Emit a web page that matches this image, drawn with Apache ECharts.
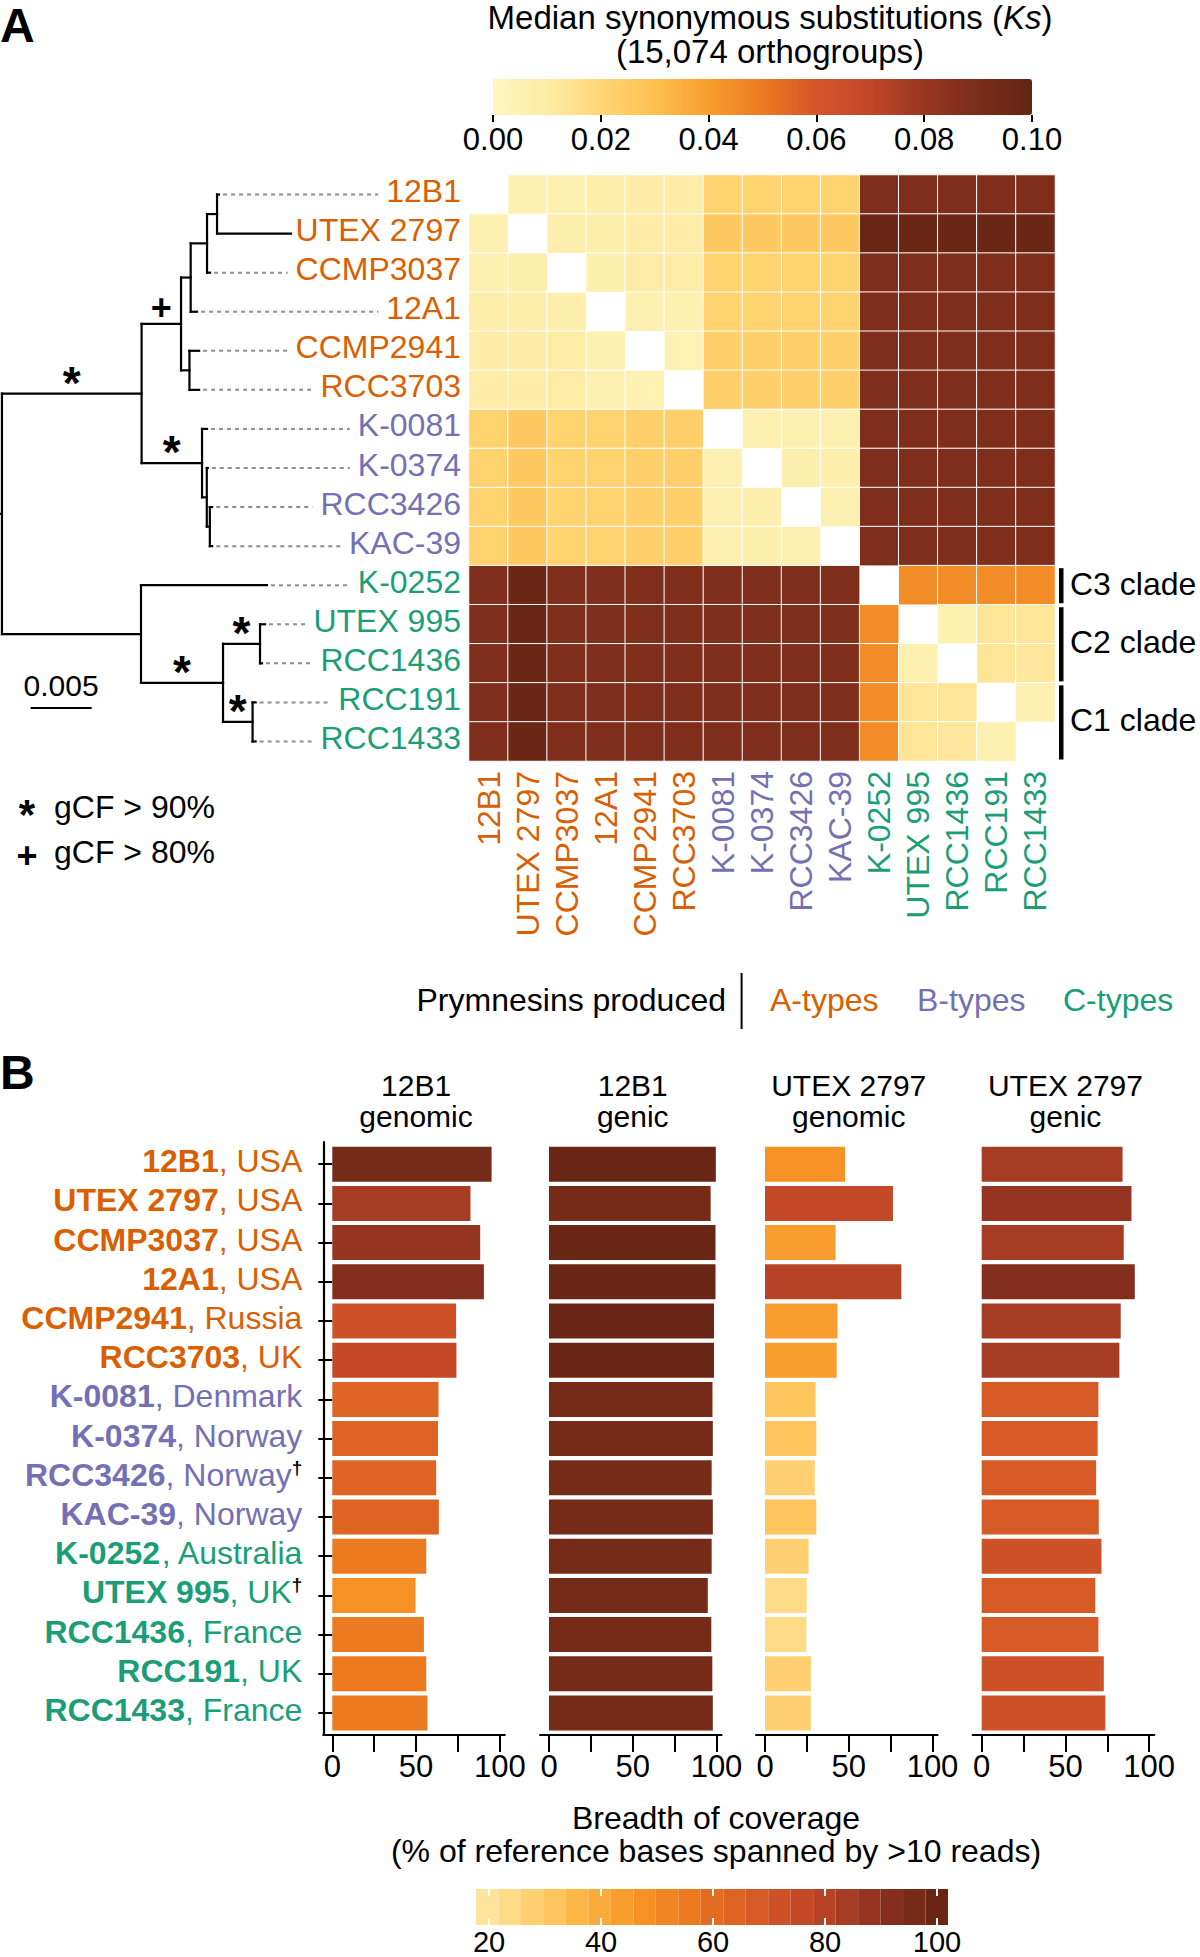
<!DOCTYPE html>
<html>
<head>
<meta charset="utf-8">
<title>Ks heatmap and breadth of coverage</title>
<script src="https://cdn.jsdelivr.net/npm/echarts@6/dist/echarts.min.js"></script>
<style>
html,body{margin:0;padding:0;background:#fff;}
#chart{width:1200px;height:1957px;}
</style>
</head>
<body>
<div id="chart"></div>
<script>
// ================= DATA =================
const strains = ['12B1','UTEX 2797','CCMP3037','12A1','CCMP2941','RCC3703','K-0081','K-0374','RCC3426','KAC-39','K-0252','UTEX 995','RCC1436','RCC191','RCC1433'];
const toxinTypes = ['A','A','A','A','A','A','B','B','B','B','C','C','C','C','C'];
const origins = ['USA','USA','USA','USA','Russia','UK','Denmark','Norway','Norway','Norway','Australia','UK','France','UK','France'];
const originDagger = [0,0,0,0,0,0,0,0,1,0,0,1,0,0,0];
const typeLegend = ['A-types','B-types','C-types'];

// median Ks, rows/cols in strain order, null on the diagonal
const ksMatrix = [
 [null,.006,.006,.008,.009,.009,.022,.022,.022,.022,.088,.088,.088,.088,.088],
 [.006,null,.007,.008,.009,.009,.026,.026,.026,.026,.097,.097,.097,.097,.097],
 [.006,.007,null,.007,.010,.010,.022,.022,.022,.022,.088,.088,.088,.088,.088],
 [.008,.008,.007,null,.006,.006,.022,.022,.022,.022,.088,.088,.088,.088,.088],
 [.009,.009,.010,.006,null,.005,.023,.023,.023,.023,.088,.088,.088,.088,.088],
 [.009,.009,.010,.006,.005,null,.023,.023,.023,.023,.088,.088,.088,.088,.088],
 [.022,.026,.022,.022,.023,.023,null,.006,.006,.006,.088,.088,.088,.088,.088],
 [.022,.026,.022,.022,.023,.023,.006,null,.007,.007,.088,.088,.088,.088,.088],
 [.022,.026,.022,.022,.023,.023,.006,.007,null,.006,.088,.088,.088,.088,.088],
 [.022,.026,.022,.022,.023,.023,.006,.007,.006,null,.088,.088,.088,.088,.088],
 [.088,.097,.088,.088,.088,.088,.088,.088,.088,.088,null,.045,.045,.045,.045],
 [.088,.097,.088,.088,.088,.088,.088,.088,.088,.088,.045,null,.006,.013,.013],
 [.088,.097,.088,.088,.088,.088,.088,.088,.088,.088,.045,.006,null,.013,.012],
 [.088,.097,.088,.088,.088,.088,.088,.088,.088,.088,.045,.013,.013,null,.006],
 [.088,.097,.088,.088,.088,.088,.088,.088,.088,.088,.045,.013,.012,.006,null]
];
const ksMin = 0, ksMax = 0.10, ksStep = 0.02;
const ksColors = ['#FFF7C2','#FEEBA5','#FED677','#FDC050','#F89D2C','#EC7A22','#D4552A','#C0472A','#983622','#7A2C1A','#632513'];

// breadth of coverage (%), strain order
const cov12B1Genomic = [95.1, 82.5, 88.3, 90.5, 73.9, 74.1, 63.4, 63.1, 62.0, 63.6, 56.1, 49.7, 54.7, 56.1, 56.8];
const cov12B1Genic   = [99.6, 96.5, 99.4, 99.4, 98.5, 98.5, 97.6, 97.8, 97.1, 97.8, 97.1, 94.8, 96.9, 97.5, 97.8];
const covUTEXGenomic = [47.8, 76.4, 42.1, 81.4, 43.3, 42.8, 30.2, 30.6, 29.7, 30.6, 26.0, 24.9, 24.7, 27.4, 27.4];
const covUTEXGenic   = [84.1, 89.4, 84.8, 91.4, 83.0, 82.2, 69.7, 69.2, 68.3, 69.9, 71.5, 67.8, 69.7, 72.9, 73.8];
const panelSeries = [cov12B1Genomic, cov12B1Genic, covUTEXGenomic, covUTEXGenic];
const panelTitles = ['12B1\ngenomic', '12B1\ngenic', 'UTEX 2797\ngenomic', 'UTEX 2797\ngenic'];
const covTicks = [0, 25, 50, 75, 100];
const covLabelled = [0, 50, 100];
const coverageBinEdges = [18,22,26,30,34,38,42,46,50,54,58,62,66,70,74,78,82,86,90,94,98,102];
const coverageColors = ['#FEE39B','#FEDB86','#FED072','#FEC55C','#FCB847','#FAAA38','#F89D2E','#F69126','#F18522','#EB7A21','#E46C22','#DE6424','#D65A26','#CE5227','#C44A27','#B64326','#A63C24','#953521','#842F1D','#762A18','#692614'];
const coverageLegendTicks = [20, 40, 60, 80, 100];

const clades = [['C3 clade', 10, 10], ['C2 clade', 11, 12], ['C1 clade', 13, 14]];

// phylogeny: branch lengths (substitutions/site)
const treeData = {len: 0.00016, children: [
  {len: 0.01144, mark: '*', children: [
    {len: 0.00323, mark: '+', children: [
      {len: 0.00079, children: [
        {len: 0.00134, children: [
          {len: 0.00082, children: [{leaf: '12B1', len: 0.00016}, {leaf: 'UTEX 2797', len: 0.00606}]},
          {leaf: 'CCMP3037', len: 0.00025}
        ]},
        {leaf: '12A1', len: 0.00052}
      ]},
      {len: 0.00069, children: [{leaf: 'CCMP2941', len: 0.00079}, {leaf: 'RCC3703', len: 0.00079}]}
    ]},
    {len: 0.00495, mark: '*', children: [
      {leaf: 'K-0081', len: 0.00041},
      {len: 0.00039, children: [
        {leaf: 'K-0374', len: 0.00008},
        {len: 0.00025, children: [{leaf: 'RCC3426', len: 0.00019}, {leaf: 'KAC-39', len: 0.00019}]}
      ]}
    ]}
  ]},
  {len: 0.01139, children: [
    {leaf: 'K-0252', len: 0.01032},
    {len: 0.00672, mark: '*', children: [
      {len: 0.00303, mark: '*', children: [{leaf: 'UTEX 995', len: 0.00041}, {leaf: 'RCC1436', len: 0.00016}]},
      {len: 0.00242, mark: '*', children: [{leaf: 'RCC191', len: 0.00025}, {leaf: 'RCC1433', len: 0.00025}]}
    ]}
  ]}
]};
const scaleBarLength = 0.005;

// ================= LAYOUT / STYLE =================
const FONT = '"Liberation Sans", Arial, Helvetica, sans-serif';
const TYPE_COLOR = {A: '#D95F02', B: '#7570B3', C: '#1B9E77'};
const FS = 32;
const HM = {left: 469, top: 175, size: 586};
const ROW_LABEL_MARGIN = 8;
const TREE_W = 459, TREE_MAX = 0.0376;
const BAR = {x0: [332.3, 549, 765, 981.7], w: 167.5, top: 1144.6, h: 588, axisY: 1735, padL: 9, padR: 5};

const mctx = document.createElement('canvas').getContext('2d');
mctx.font = FS + 'px "Liberation Sans"';
const rowLabelWidth = strains.map(s => mctx.measureText(s).width);
const labelRight = HM.left - ROW_LABEL_MARGIN;

// ---- tree segments ----
const treeSegs = []; // [x1,y1,x2,y2,kind,ref]  kind 0 line,1 dashed leader,2 '*',3 '+',4 scale bar
function buildTree(node, px) {
  const x = px + node.len;
  let y;
  if (node.leaf !== undefined) {
    y = strains.indexOf(node.leaf);
    treeSegs.push([x, y, x, y, 1, y]);
  } else {
    const ys = node.children.map(c => buildTree(c, x));
    y = (ys[0] + ys[ys.length - 1]) / 2;
    treeSegs.push([x, ys[0], x, ys[ys.length - 1], 0, 0]);
  }
  treeSegs.push([px, y, x, y, 0, 0]);
  if (node.mark) treeSegs.push([px, y, x, y, node.mark === '*' ? 2 : 3, 0]);
  return y;
}
buildTree(treeData, 0);
treeSegs.push([0, 0, scaleBarLength, 0, 4, 0]);

function renderTree(params, api) {
  const k = api.value(4);
  const x1 = api.value(0), y1 = api.value(1), x2 = api.value(2), y2 = api.value(3);
  if (k === 0) {
    const a = api.coord([x1, y1]), b = api.coord([x2, y2]);
    return {type: 'line', shape: {x1: a[0], y1: a[1], x2: b[0], y2: b[1]},
      style: {stroke: '#000', lineWidth: 2.2, lineCap: 'square'}};
  }
  if (k === 1) {
    const a = api.coord([x1, y1]);
    const end = labelRight - rowLabelWidth[api.value(5)] - 8;
    if (end - a[0] < 10) return null;
    return {type: 'line', shape: {x1: a[0] + 4, y1: a[1], x2: end, y2: a[1]},
      style: {stroke: '#8e8e8e', lineWidth: 2, lineDash: [4, 4]}};
  }
  if (k === 2 || k === 3) {
    const a = api.coord([(x1 + x2) / 2, y1]);
    const star = k === 2;
    return {type: 'text', style: {text: star ? '*' : '+', x: a[0], y: a[1] - (star ? 11 : 16),
      fontSize: star ? 46 : 36, fontWeight: 'bold', fontFamily: FONT, fill: '#000', align: 'center', verticalAlign: 'middle'}};
  }
  if (k === 4) {
    const len = api.size([scaleBarLength, 0])[0];
    const sx = 30.6, sy = 708;
    return {type: 'group', children: [
      {type: 'line', shape: {x1: sx, y1: sy, x2: sx + len, y2: sy}, style: {stroke: '#000', lineWidth: 2.2}},
      {type: 'text', style: {text: String(scaleBarLength), x: sx + len / 2, y: sy - 23, fontSize: 30, fontFamily: FONT, fill: '#000', align: 'center', verticalAlign: 'middle'}}
    ]};
  }
  return null;
}

function renderClade(params, api) {
  const a = api.coord([api.value(0), api.value(1)]);
  const b = api.coord([api.value(0), api.value(2)]);
  const band = api.size([1, 1]);
  const x = a[0] + band[0] / 2 + 4;
  const y1 = a[1] - band[1] / 2 + 2.5, y2 = b[1] + band[1] / 2 - 1.5;
  return {type: 'group', children: [
    {type: 'rect', shape: {x: x, y: y1, width: 4.5, height: y2 - y1}, style: {fill: '#000'}},
    {type: 'text', style: {text: clades[params.dataIndex][0], x: x + 11, y: (y1 + y2) / 2 - 2, fontSize: FS, fontFamily: FONT, fill: '#000', align: 'left', verticalAlign: 'middle'}}
  ]};
}

// ---- heatmap data ----
const heatData = [];
ksMatrix.forEach((row, r) => row.forEach((v, c) => { if (v !== null) heatData.push([c, r, v]); }));

// ---- rich styles ----
const hmRich = {};
['A', 'B', 'C'].forEach(t => { hmRich[t] = {color: TYPE_COLOR[t], fontSize: FS, fontFamily: FONT}; });
const barRich = {dag: {color: '#000', fontSize: 19, fontWeight: 'bold', fontFamily: FONT, verticalAlign: 'top', lineHeight: 19}};
['A', 'B', 'C'].forEach(t => {
  barRich[t + 'b'] = {color: TYPE_COLOR[t], fontSize: FS, fontWeight: 'bold', fontFamily: FONT, lineHeight: 34};
  barRich[t + 'r'] = {color: TYPE_COLOR[t], fontSize: FS, fontFamily: FONT, lineHeight: 34};
});
const hmLabel = v => '{' + toxinTypes[strains.indexOf(v)] + '|' + v + '}';
const barLabel = v => {
  const i = strains.indexOf(v), t = toxinTypes[i];
  return '{' + t + 'b|' + v + '}{' + t + 'r|, ' + origins[i] + '}' + (originDagger[i] ? '{dag|\u2020}' : '');
};

// ---- grids & axes ----
const grids = [
  {left: HM.left, top: HM.top, width: HM.size, height: HM.size},   // 0 heatmap
  {left: 0, top: HM.top, width: TREE_W, height: HM.size},          // 1 tree
  {left: 493, top: 79, width: 539, height: 36},                     // 2 Ks colour-bar ticks
  {left: 489, top: 1889, width: 448, height: 36}                    // 3 coverage colour-bar ticks
];
const xAxes = [
  {gridIndex: 0, type: 'category', data: strains, axisLine: {show: false}, axisTick: {show: false},
    axisLabel: {interval: 0, rotate: 90, margin: 10, formatter: hmLabel, rich: hmRich}},
  {gridIndex: 1, type: 'value', min: 0, max: TREE_MAX, show: false},
  {gridIndex: 2, type: 'value', min: ksMin, max: ksMax, interval: ksStep, z: 10, splitLine: {show: false},
    axisLine: {show: false}, axisTick: {show: true, length: 7, lineStyle: {color: '#000', width: 2}},
    axisLabel: {margin: 9, color: '#000', fontSize: 31, fontFamily: FONT, formatter: v => v.toFixed(2)}},
  {gridIndex: 3, type: 'value', position: 'bottom', min: coverageLegendTicks[0], max: coverageLegendTicks[coverageLegendTicks.length - 1], interval: 20, z: 10,
    splitLine: {show: false}, axisLine: {show: false},
    axisTick: {show: true, inside: true, length: 7, lineStyle: {color: '#fff', width: 2}},
    axisLabel: {margin: 2, color: '#000', fontSize: 29, fontFamily: FONT}},
  {gridIndex: 3, type: 'value', position: 'top', min: coverageLegendTicks[0], max: coverageLegendTicks[coverageLegendTicks.length - 1], interval: 20, z: 10,
    splitLine: {show: false}, axisLine: {show: false}, axisLabel: {show: false},
    axisTick: {show: true, inside: true, length: 7, lineStyle: {color: '#fff', width: 2}}}
];
const yAxes = [
  {gridIndex: 0, type: 'category', data: strains, inverse: true, axisLine: {show: false}, axisTick: {show: false},
    axisLabel: {interval: 0, margin: ROW_LABEL_MARGIN, padding: [0, 0, 7, 0], formatter: hmLabel, rich: hmRich}},
  {gridIndex: 1, type: 'value', min: -0.5, max: strains.length - 0.5, inverse: true, show: false},
  {gridIndex: 2, type: 'value', show: false},
  {gridIndex: 3, type: 'value', show: false}
];
const series = [
  {type: 'heatmap', xAxisIndex: 0, yAxisIndex: 0, data: heatData, itemStyle: {borderColor: '#fff', borderWidth: 1}, emphasis: {disabled: true}},
  {type: 'custom', xAxisIndex: 0, yAxisIndex: 0, clip: false, silent: true, renderItem: renderClade,
    data: clades.map(c => [strains.length - 1, c[1], c[2]])},
  {type: 'custom', xAxisIndex: 1, yAxisIndex: 1, clip: false, silent: true, renderItem: renderTree,
    encode: {x: [0, 2], y: [1, 3]}, data: treeSegs}
];

function txt(text, x, y, o) {
  return {type: 'text', x: x, y: y, silent: true,
    style: Object.assign({text: text, fontSize: FS, fontFamily: FONT, fill: '#000', align: 'left', verticalAlign: 'middle'}, o || {})};
}

const graphics = [];
const barSeriesIdx = [];
panelSeries.forEach((vals, p) => {
  const x0 = BAR.x0[p];
  const gData = grids.length;
  grids.push({left: x0, top: BAR.top, width: BAR.w, height: BAR.h});
  const gFrame = grids.length;
  grids.push({left: x0 - BAR.padL, top: BAR.top - 2.6, width: BAR.w + BAR.padL + BAR.padR, height: BAR.axisY - (BAR.top - 2.6)});
  const xi = xAxes.length;
  xAxes.push({gridIndex: gData, type: 'value', min: covTicks[0], max: covTicks[covTicks.length - 1], interval: 25,
    offset: BAR.axisY - (BAR.top + BAR.h), splitLine: {show: false}, axisLine: {show: false},
    axisTick: {show: true, length: 17, lineStyle: {color: '#000', width: 2}},
    axisLabel: {margin: 16, color: '#000', fontSize: 31, fontFamily: FONT,
      formatter: v => (covLabelled.indexOf(v) >= 0 ? String(v) : '')}});
  xAxes.push({gridIndex: gFrame, type: 'value', min: 0, max: 1, splitLine: {show: false}, axisTick: {show: false}, axisLabel: {show: false},
    axisLine: {show: true, onZero: false, lineStyle: {color: '#000', width: 2.2}}});
  const yi = yAxes.length;
  if (p === 0) {
    yAxes.push({gridIndex: gData, type: 'category', data: strains, inverse: true, offset: BAR.padL,
      axisLine: {show: false}, axisTick: {show: true, alignWithLabel: true, length: 14, lineStyle: {color: '#000', width: 2}},
      axisLabel: {interval: 0, margin: 21, padding: [0, 0, 6, 0], formatter: barLabel, rich: barRich}});
  } else {
    yAxes.push({gridIndex: gData, type: 'category', data: strains, inverse: true, show: false});
  }
  yAxes.push({gridIndex: gFrame, type: 'value', min: 0, max: 1, show: p === 0, splitLine: {show: false}, axisTick: {show: false}, axisLabel: {show: false},
    axisLine: {show: true, onZero: false, lineStyle: {color: '#000', width: 2.2}}});
  barSeriesIdx.push(series.length);
  series.push({type: 'bar', xAxisIndex: xi, yAxisIndex: yi, barWidth: 35, silent: true,
    data: vals.map((v, i) => [v, strains[i]])});
  graphics.push(txt(panelTitles[p], x0 + BAR.w / 2, 1101, {align: 'center', fontSize: 30, lineHeight: 31}));
});

graphics.push(txt('A', 0, 25, {fontSize: 48, fontWeight: 'bold'}));
graphics.push(txt('B', 0, 1072, {fontSize: 48, fontWeight: 'bold'}));
graphics.push(txt('{n|Median synonymous substitutions (}{i|Ks}{n|)}', 770, 17, {align: 'center',
  rich: {n: {fontSize: 33, fontFamily: FONT, color: '#000'}, i: {fontSize: 33, fontFamily: FONT, fontStyle: 'italic', color: '#000'}}}));
graphics.push(txt('(15,074 orthogroups)', 770, 51, {align: 'center', fontSize: 33}));
graphics.push(txt('*', 27, 814, {fontSize: 42, fontWeight: 'bold', align: 'center'}));
graphics.push(txt('gCF > 90%', 54, 807));
graphics.push(txt('+', 27, 855, {fontSize: 36, fontWeight: 'bold', align: 'center'}));
graphics.push(txt('gCF > 80%', 54, 852));
graphics.push(txt('Prymnesins produced', 726, 1000, {align: 'right'}));
graphics.push({type: 'line', silent: true, shape: {x1: 741.6, y1: 973, x2: 741.6, y2: 1029}, style: {stroke: '#000', lineWidth: 2}});
graphics.push(txt(typeLegend[0], 770, 1000, {fill: TYPE_COLOR.A}));
graphics.push(txt(typeLegend[1], 917, 1000, {fill: TYPE_COLOR.B}));
graphics.push(txt(typeLegend[2], 1063, 1000, {fill: TYPE_COLOR.C}));
graphics.push(txt('Breadth of coverage\n(% of reference bases spanned by >10 reads)', 716, 1834, {align: 'center', lineHeight: 33}));

const pieces = coverageColors.map((c, i) => ({gte: coverageBinEdges[i], lt: coverageBinEdges[i + 1], color: c}));

const option = {
  animation: false,
  backgroundColor: '#fff',
  textStyle: {fontFamily: FONT},
  grid: grids,
  xAxis: xAxes,
  yAxis: yAxes,
  visualMap: [
    {type: 'continuous', seriesIndex: 0, min: ksMin, max: ksMax, orient: 'horizontal', left: 493, top: 79,
      itemWidth: 36, itemHeight: 539, calculable: false, hoverLink: false, padding: 0, text: null,
      inRange: {color: ksColors}},
    {type: 'piecewise', seriesIndex: barSeriesIdx, dimension: 0, pieces: pieces, orient: 'horizontal',
      left: 476, top: 1889, itemWidth: 472 / coverageColors.length, itemHeight: 36, itemGap: 0, itemSymbol: 'rect',
      showLabel: false, hoverLink: false, selectedMode: false, padding: 0, text: null}
  ],
  series: series,
  graphic: {elements: graphics}
};

const chart = echarts.init(document.getElementById('chart'), null, {renderer: 'svg', width: 1200, height: 1957});
chart.setOption(option);
</script>
</body>
</html>
